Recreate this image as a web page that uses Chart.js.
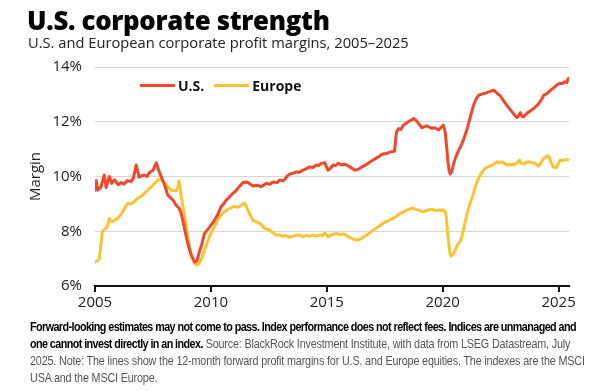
<!DOCTYPE html>
<html>
<head>
<meta charset="utf-8">
<script src="https://cdn.jsdelivr.net/npm/chart.js@4.4.1/dist/chart.umd.min.js"></script>
<style>
  html, body { margin: 0; padding: 0; background: #fff; }
  #wrap { position: relative; width: 607px; height: 391px; overflow: hidden; background: #fff; }
  #c { position: absolute; left: 0; top: 0; }
  .title { position: absolute; left: 27px; top: 2px; font-family: "Open Sans", sans-serif; font-weight: 800; font-size: 25.8px; color: #000; letter-spacing: -0.3px; white-space: nowrap; }
  .subtitle { position: absolute; left: 28px; top: 32px; font-family: "Open Sans", sans-serif; font-size: 14.7px; color: #222; white-space: nowrap; }
  .legend { position: absolute; top: 76px; font-family: "Open Sans", sans-serif; font-weight: 700; font-size: 14px; color: #111; white-space: nowrap; display: flex; align-items: center; }
  .legend .sw { display: inline-block; width: 35px; height: 3px; margin-right: 3px; }
  .note { position: absolute; left: 30px; top: 318px; font-family: "Liberation Sans Narrow", "Liberation Sans", Arial, sans-serif; font-size: 13px; line-height: 17px; color: #555; letter-spacing: -0.2px; transform: scaleX(0.83); transform-origin: 0 0; }
  .note div { white-space: nowrap; }
  .note b { color: #000; font-weight: 700; letter-spacing: -0.7px; }
</style>
</head>
<body>
<div id="wrap">
  <canvas id="c" width="607" height="391"></canvas>
  <div class="title">U.S. corporate strength</div>
  <div class="subtitle">U.S. and European corporate profit margins, 2005–2025</div>
  <div class="legend" id="lg"></div>
  <div class="note">
    <div><b>Forward-looking estimates may not come to pass. Index performance does not reflect fees. Indices are unmanaged and</b></div>
    <div><b>one cannot invest directly in an index.</b> Source: BlackRock Investment Institute, with data from LSEG Datastream, July</div>
    <div>2025. Note: The lines show the 12-month forward profit margins for U.S. and Europe equities. The indexes are the MSCI</div>
    <div>USA and the MSCI Europe.</div>
  </div>
</div>
<script>
const seriesNames = ["U.S.", "Europe"];
const xTickYears = [2005, 2010, 2015, 2020, 2025];
const yTickValues = [6, 8, 10, 12, 14];

const usDates = [2005.00,2005.05,2005.12,2005.25,2005.40,2005.48,2005.62,2005.72,2005.85,2006.00,2006.13,2006.25,2006.40,2006.55,2006.65,2006.78,2006.90,2007.00,2007.13,2007.25,2007.35,2007.50,2007.64,2007.78,2007.88,2008.00,2008.14,2008.36,2008.50,2008.62,2008.70,2008.80,2008.90,2009.00,2009.15,2009.30,2009.40,2009.50,2009.60,2009.72,2009.85,2009.95,2010.15,2010.30,2010.44,2010.55,2010.66,2010.80,2010.94,2011.05,2011.16,2011.28,2011.38,2011.50,2011.60,2011.70,2011.81,2012.00,2012.17,2012.30,2012.39,2012.55,2012.68,2012.85,2012.97,2013.10,2013.20,2013.30,2013.40,2013.55,2013.69,2013.80,2013.97,2014.10,2014.26,2014.40,2014.55,2014.65,2014.77,2014.91,2015.05,2015.15,2015.27,2015.38,2015.49,2015.65,2015.78,2015.90,2016.00,2016.12,2016.21,2016.32,2016.43,2016.58,2016.72,2016.85,2017.00,2017.15,2017.29,2017.40,2017.58,2017.75,2017.92,2018.01,2018.10,2018.20,2018.30,2018.42,2018.52,2018.63,2018.74,2018.85,2018.95,2019.10,2019.20,2019.31,2019.42,2019.53,2019.65,2019.82,2019.95,2020.02,2020.11,2020.17,2020.22,2020.28,2020.33,2020.40,2020.47,2020.56,2020.66,2020.78,2020.88,2020.96,2021.04,2021.12,2021.20,2021.28,2021.36,2021.46,2021.56,2021.66,2021.77,2021.88,2021.98,2022.10,2022.20,2022.30,2022.40,2022.48,2022.56,2022.66,2022.77,2022.88,2022.99,2023.10,2023.20,2023.28,2023.35,2023.42,2023.50,2023.60,2023.71,2023.82,2023.93,2024.05,2024.15,2024.25,2024.36,2024.48,2024.58,2024.70,2024.80,2024.90,2024.97,2025.06,2025.16,2025.25,2025.30,2025.36,2025.42];
const usValues = [9.50,9.85,9.50,9.60,10.05,9.60,10.00,9.75,9.88,9.70,9.78,9.72,9.85,9.82,9.92,10.42,9.98,10.02,10.05,10.00,10.15,10.22,10.50,10.15,9.95,9.70,9.32,9.14,8.95,8.85,8.70,8.35,7.95,7.56,7.13,6.88,6.92,7.25,7.50,7.92,8.05,8.16,8.40,8.62,8.90,9.00,9.14,9.25,9.38,9.45,9.56,9.68,9.77,9.80,9.78,9.72,9.65,9.68,9.63,9.70,9.75,9.72,9.80,9.78,9.87,9.84,9.90,10.02,10.09,10.12,10.17,10.15,10.23,10.28,10.35,10.33,10.42,10.40,10.48,10.50,10.23,10.30,10.42,10.40,10.48,10.42,10.45,10.40,10.35,10.28,10.23,10.25,10.30,10.38,10.45,10.52,10.60,10.68,10.75,10.82,10.84,10.90,10.92,11.63,11.75,11.72,11.87,11.95,12.00,12.05,12.12,12.05,11.95,11.78,11.82,11.85,11.80,11.76,11.78,11.70,11.80,11.88,11.63,11.10,10.60,10.20,10.09,10.20,10.45,10.70,10.90,11.10,11.30,11.50,11.70,11.95,12.20,12.45,12.67,12.85,12.97,13.00,13.03,13.05,13.09,13.12,13.15,13.08,13.00,12.95,12.85,12.72,12.60,12.48,12.36,12.25,12.15,12.22,12.33,12.20,12.18,12.28,12.36,12.42,12.49,12.58,12.67,12.80,12.97,13.02,13.09,13.18,13.25,13.32,13.37,13.40,13.40,13.45,13.46,13.44,13.58];

const euDates = [2005.00,2005.10,2005.19,2005.26,2005.32,2005.42,2005.52,2005.62,2005.69,2005.76,2005.88,2005.98,2006.10,2006.19,2006.30,2006.41,2006.52,2006.63,2006.74,2006.84,2006.95,2007.06,2007.17,2007.28,2007.40,2007.50,2007.61,2007.71,2007.80,2007.88,2007.98,2008.07,2008.18,2008.29,2008.40,2008.51,2008.58,2008.62,2008.67,2008.72,2008.80,2008.87,2008.94,2009.00,2009.07,2009.15,2009.22,2009.30,2009.38,2009.43,2009.50,2009.57,2009.65,2009.72,2009.83,2009.94,2010.05,2010.15,2010.26,2010.37,2010.48,2010.58,2010.70,2010.80,2010.91,2011.02,2011.12,2011.23,2011.35,2011.45,2011.52,2011.60,2011.70,2011.81,2011.95,2012.10,2012.20,2012.32,2012.42,2012.53,2012.68,2012.82,2012.97,2013.10,2013.25,2013.40,2013.55,2013.70,2013.83,2013.95,2014.10,2014.26,2014.40,2014.55,2014.70,2014.82,2014.91,2015.05,2015.18,2015.30,2015.42,2015.55,2015.68,2015.78,2015.92,2016.06,2016.20,2016.35,2016.48,2016.60,2016.72,2016.86,2017.00,2017.15,2017.29,2017.44,2017.58,2017.72,2017.87,2018.01,2018.16,2018.30,2018.44,2018.60,2018.74,2018.85,2018.96,2019.07,2019.17,2019.30,2019.46,2019.60,2019.75,2019.90,2020.04,2020.10,2020.15,2020.20,2020.26,2020.31,2020.36,2020.42,2020.48,2020.56,2020.63,2020.69,2020.76,2020.83,2020.92,2021.02,2021.10,2021.19,2021.26,2021.34,2021.41,2021.50,2021.62,2021.73,2021.84,2021.95,2022.06,2022.20,2022.35,2022.45,2022.56,2022.66,2022.77,2022.92,2023.06,2023.20,2023.32,2023.40,2023.50,2023.60,2023.71,2023.85,2024.00,2024.08,2024.15,2024.25,2024.36,2024.46,2024.54,2024.60,2024.65,2024.71,2024.77,2024.84,2024.91,2024.98,2025.06,2025.15,2025.23,2025.33,2025.45];
const euValues = [6.88,6.92,7.00,7.56,8.00,8.07,8.14,8.47,8.38,8.35,8.42,8.47,8.60,8.71,8.88,9.02,9.00,9.02,9.12,9.20,9.25,9.32,9.42,9.50,9.60,9.68,9.78,9.87,9.90,9.88,9.78,9.68,9.58,9.50,9.48,9.48,9.60,9.84,9.60,9.26,8.90,8.53,8.15,7.80,7.50,7.13,6.95,6.83,6.78,6.77,6.85,6.95,7.12,7.31,7.55,7.80,8.00,8.16,8.35,8.53,8.62,8.71,8.78,8.83,8.88,8.90,8.88,8.90,8.98,9.02,8.92,8.77,8.58,8.40,8.35,8.29,8.22,8.10,8.08,8.04,7.95,7.86,7.86,7.82,7.84,7.78,7.82,7.86,7.86,7.80,7.84,7.82,7.86,7.82,7.86,7.84,7.94,7.80,7.86,7.90,7.92,7.88,7.90,7.89,7.80,7.74,7.70,7.68,7.72,7.80,7.86,7.95,8.04,8.12,8.20,8.30,8.36,8.42,8.47,8.56,8.65,8.70,8.77,8.82,8.84,8.80,8.77,8.74,8.71,8.76,8.80,8.78,8.77,8.78,8.77,8.72,8.59,8.10,7.56,7.22,7.09,7.14,7.19,7.35,7.50,7.56,7.65,7.80,8.15,8.53,8.80,9.02,9.20,9.42,9.63,9.85,10.05,10.20,10.30,10.35,10.38,10.45,10.54,10.50,10.54,10.48,10.42,10.45,10.42,10.50,10.60,10.48,10.45,10.52,10.54,10.50,10.48,10.42,10.38,10.52,10.66,10.72,10.76,10.70,10.60,10.45,10.35,10.32,10.33,10.45,10.60,10.58,10.60,10.62,10.60];

const colors = ["#f2472a", "#fcc232"];

function pts(xs, ys) { return xs.map((x, i) => ({ x: x, y: ys[i] })); }

// HTML legend
const lg = document.getElementById('lg');
lg.style.left = '140px';
seriesNames.forEach((n, i) => {
  const s = document.createElement('span'); s.className = 'sw'; s.style.background = colors[i];
  const t = document.createElement('span'); t.textContent = n; t.style.marginRight = i === 0 ? '10px' : '0';
  lg.appendChild(s); lg.appendChild(t);
});

const tickFont = { family: "'Open Sans', sans-serif", size: 15 };

new Chart(document.getElementById('c'), {
  type: 'line',
  data: {
    datasets: [
      { label: seriesNames[0], data: pts(usDates, usValues), borderColor: colors[0], backgroundColor: colors[0], borderWidth: 3, pointRadius: 0, tension: 0, borderJoinStyle: 'round', borderCapStyle: 'round' },
      { label: seriesNames[1], data: pts(euDates, euValues), borderColor: colors[1], backgroundColor: colors[1], borderWidth: 3, pointRadius: 0, tension: 0, borderJoinStyle: 'round', borderCapStyle: 'round' }
    ]
  },
  options: {
    responsive: false,
    animation: false,
    events: [],
    layout: { padding: { top: 67, right: 38, bottom: 75, left: 0 } },
    plugins: { legend: { display: false }, tooltip: { enabled: false }, title: { display: false } },
    scales: {
      x: {
        type: 'linear', min: 2005, max: 2025.45,
        afterBuildTicks: (s) => { s.ticks = xTickYears.map(v => ({ value: v })); },
        afterFit: (s) => { s.height = 30; },
        ticks: { font: tickFont, color: '#222', padding: 2, maxRotation: 0, autoSkip: false, callback: (v) => String(v) },
        grid: { drawOnChartArea: false, drawTicks: true, tickLength: 6, color: '#111', lineWidth: 2 },
        border: { display: true, color: '#111', width: 2 }
      },
      y: {
        min: 6, max: 14,
        afterBuildTicks: (s) => { s.ticks = yTickValues.map(v => ({ value: v })); },
        afterFit: (s) => { s.width = 95; },
        ticks: { font: tickFont, color: '#222', padding: 13, callback: (v) => v + '%' },
        grid: { color: '#d6d6d6', lineWidth: 1, drawTicks: false },
        border: { display: false },
        title: { display: true, text: 'Margin', font: { family: "'Open Sans', sans-serif", size: 15 }, color: '#222', padding: { top: 27, bottom: 0 } }
      }
    }
  }
});
</script>
</body>
</html>
